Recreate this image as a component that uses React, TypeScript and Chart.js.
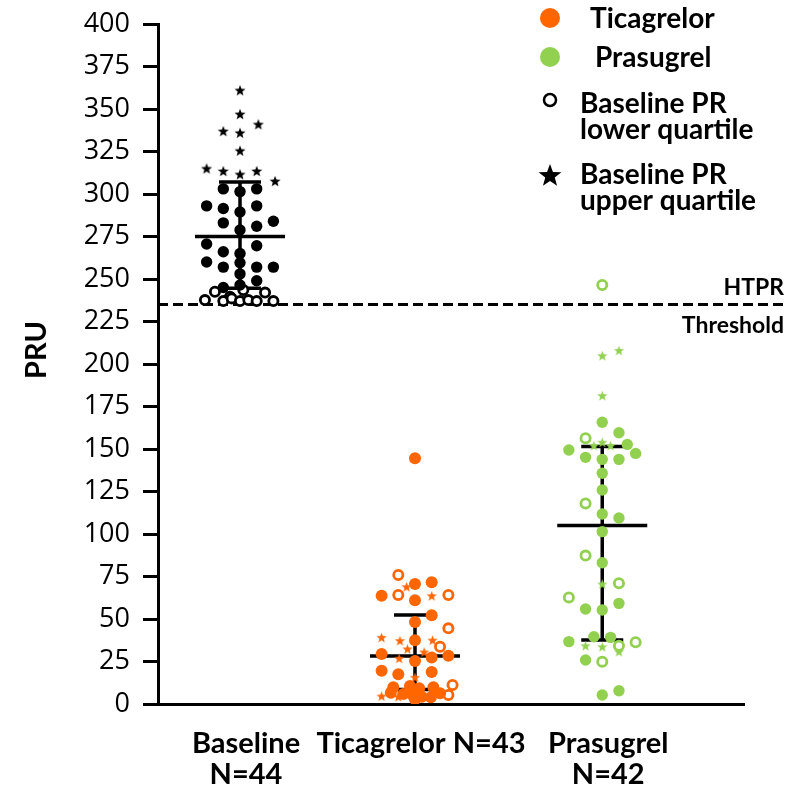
import React, { useEffect, useRef } from 'react';
import { Chart, registerables } from 'chart.js';

Chart.register(...registerables);

// Group layout on the x axis
const GROUP_X = [1, 2, 3.07];
const GROUP_LABELS: (string | string[])[] = [['Baseline', 'N=44'], 'Ticagrelor N=43', ['Prasugrel', 'N=42']];
const GROUP_COLORS = ['#000000', '#FF6600', '#92D050'];

// Centre line and whisker ends per group (PRU)
const CENTER = [275, 28.2, 105];
const UPPER = [307, 52.4, 151.5];
const LOWER = [244.5, 8.5, 37.6];

// High on-treatment platelet reactivity threshold
const HTPR = 235;

const Y_MIN = 0;
const Y_MAX = 400;
const Y_STEP = 25;

// Each point: [jitter column, PRU]
const BASELINE_MID: [number, number][] = [
  [-1, 303], [0, 301.4], [1, 303], [-2, 293], [-1, 291.5], [0, 289.4], [1, 293],
  [-1, 283], [0, 278.8], [1, 281], [2, 284], [-2, 270.6], [-1, 266], [0, 265],
  [1, 269.6], [-2, 260], [-1, 257], [0, 259.6], [1, 257], [2, 257], [0, 253],
  [1, 249], [-1, 245], [0, 246.5],
];
const BASELINE_LOWER_Q: [number, number][] = [
  [-1.5, 242.5], [-0.6, 239.6], [0.2, 243.5], [1.5, 242], [-2.1, 237.6], [-1, 237],
  [-0.5, 238.6], [0, 237], [0.5, 237.6], [1, 237], [2, 237],
];
const BASELINE_UPPER_Q: [number, number][] = [
  [0, 361], [0, 347], [1.1, 341], [-1, 337], [0, 336], [0, 325.5], [-2, 315],
  [-1, 313.5], [0, 311.6], [1, 313.5], [2.1, 307.6],
];

const TICAGRELOR_MID: [number, number][] = [
  [0, 144.5], [0, 70.6], [1, 71.6], [-2, 63.7], [0, 61], [1, 52.2], [0, 48.2],
  [0, 37.5], [-2, 29.4], [1, 27.3], [2, 28.4], [0, 25.3], [-2, 19.6], [-1, 17.5],
  [1, 18.8], [-1.3, 9.8], [-0.3, 10.6], [0.25, 9.2], [1.1, 9.8], [-1.45, 6.6],
  [-0.7, 5.9], [-0.1, 4.7], [0.4, 4.3], [0.95, 3.9], [1.5, 6.3], [0, 2.8],
];
const TICAGRELOR_LOWER_Q: [number, number][] = [
  [-1, 75.9], [-1, 64.1], [2, 64.1], [2, 44.5], [1.5, 33.7], [2.25, 11.2], [2, 5.3],
];
const TICAGRELOR_UPPER_Q: [number, number][] = [
  [-0.5, 69], [1, 63.7], [-2, 39.2], [-0.9, 37.3], [1.05, 37.6], [-0.45, 32.4],
  [0.55, 30.6], [-0.95, 26.9], [0, 15.7], [-2, 4.7], [-1, 4.3],
];

const PRASUGREL_MID: [number, number][] = [
  [0, 165.7], [1, 159.6], [-2, 149.4], [1.5, 152.7], [2, 147.4], [-1, 145.1],
  [0, 143.9], [1, 143.9], [0, 135.7], [0, 125.9], [0, 111.8], [1, 109.4],
  [0, 101.4], [0, 83.1], [1, 59.2], [-1, 55.9], [0, 55.3], [-2, 36.7],
  [-0.5, 39.6], [0.5, 39.2], [-1, 25.9], [0, 5.3], [1, 7.8],
];
const PRASUGREL_LOWER_Q: [number, number][] = [
  [0, 246.5], [-1, 156.3], [-1, 118], [-1, 87.3], [1, 71], [-2, 62.7], [2, 36.3],
  [1, 34.3], [0, 24.9],
];
const PRASUGREL_UPPER_Q: [number, number][] = [
  [0, 204.9], [1, 208], [0, 181.4], [-0.5, 152], [0, 154], [0.5, 152], [0, 70.6],
  [-1, 34.3], [0, 33.7], [1, 30.8],
];

const COL_WIDTH = 0.0954; // x units per jitter column

const BOLD = 'Lato';
const REGULAR = 'Open Sans';

function toPoints(rows: [number, number][], g: number) {
  return rows.map(([c, v]) => ({ x: GROUP_X[g] + c * COL_WIDTH, y: v }));
}

function starPath(ctx: CanvasRenderingContext2D, cx: number, cy: number, outer: number, inner: number) {
  ctx.beginPath();
  for (let i = 0; i < 10; i++) {
    const a = -Math.PI / 2 + (i * Math.PI) / 5;
    const r = i % 2 === 0 ? outer : inner;
    const px = cx + r * Math.cos(a);
    const py = cy + r * Math.sin(a);
    if (i === 0) ctx.moveTo(px, py);
    else ctx.lineTo(px, py);
  }
  ctx.closePath();
}

function makeStar(color: string, outer: number) {
  const size = Math.ceil(outer * 2 + 2);
  const c = document.createElement('canvas');
  c.width = size;
  c.height = size;
  const ctx = c.getContext('2d')!;
  starPath(ctx, size / 2, size / 2 + outer * 0.1, outer, outer * 0.42);
  ctx.fillStyle = color;
  ctx.fill();
  return c;
}

const overlay = {
  id: 'pruOverlay',
  beforeDatasetsDraw(chart: any) {
    const { ctx, scales, chartArea } = chart;
    const xs = scales.x;
    const ys = scales.y;
    ctx.save();
    // threshold line
    const yT = ys.getPixelForValue(HTPR);
    ctx.strokeStyle = '#000';
    ctx.lineWidth = 3;
    ctx.setLineDash([10, 5]);
    ctx.beginPath();
    ctx.moveTo(chartArea.left, yT);
    ctx.lineTo(786, yT);
    ctx.stroke();
    ctx.setLineDash([]);
    // centre lines and whiskers
    ctx.lineWidth = 3.5;
    ctx.lineCap = 'butt';
    for (let g = 0; g < GROUP_X.length; g++) {
      const x = xs.getPixelForValue(GROUP_X[g]);
      const yc = ys.getPixelForValue(CENTER[g]);
      const yu = ys.getPixelForValue(UPPER[g]);
      const yl = ys.getPixelForValue(LOWER[g]);
      ctx.beginPath();
      ctx.moveTo(x, yu);
      ctx.lineTo(x, yl);
      ctx.moveTo(x - 45, yc);
      ctx.lineTo(x + 45, yc);
      ctx.moveTo(x - 21, yu);
      ctx.lineTo(x + 21, yu);
      ctx.moveTo(x - 21, yl);
      ctx.lineTo(x + 21, yl);
      ctx.stroke();
    }
    ctx.restore();
  },
  afterDraw(chart: any) {
    const { ctx, scales } = chart;
    const ys = scales.y;
    ctx.save();
    ctx.fillStyle = '#000';
    ctx.textBaseline = 'middle';

    // threshold labels
    const yT = ys.getPixelForValue(HTPR);
    ctx.font = `bold 23px ${BOLD}`;
    ctx.textAlign = 'right';
    ctx.fillText('HTPR', 784, yT - 17);
    ctx.fillText('Threshold', 784, yT + 21);

    // y axis title
    ctx.save();
    ctx.translate(37, 350);
    ctx.rotate(-Math.PI / 2);
    ctx.textAlign = 'center';
    ctx.font = `bold 29px ${BOLD}`;
    ctx.fillText('PRU', 0, 0);
    ctx.restore();

    // legend
    ctx.textAlign = 'left';
    ctx.font = `bold 28px ${BOLD}`;
    ctx.fillStyle = GROUP_COLORS[1];
    ctx.beginPath();
    ctx.arc(550, 18, 10, 0, Math.PI * 2);
    ctx.fill();
    ctx.fillStyle = GROUP_COLORS[2];
    ctx.beginPath();
    ctx.arc(550, 57, 10, 0, Math.PI * 2);
    ctx.fill();
    ctx.strokeStyle = '#000';
    ctx.lineWidth = 2.5;
    ctx.beginPath();
    ctx.arc(550, 100, 6, 0, Math.PI * 2);
    ctx.stroke();
    ctx.fillStyle = '#000';
    starPath(ctx, 550, 176, 12, 5);
    ctx.fill();

    ctx.fillText('Ticagrelor', 590, 19);
    ctx.fillText('Prasugrel', 595, 58);
    ctx.fillText('Baseline PR', 580, 104);
    ctx.fillText('lower quartile', 580, 130);
    ctx.fillText('Baseline PR', 580, 175);
    ctx.fillText('upper quartile', 580, 201);
    ctx.restore();
  },
};

export default function App() {
  const canvasRef = useRef<HTMLCanvasElement | null>(null);

  useEffect(() => {
    const canvas = canvasRef.current;
    if (!canvas) return;

    const datasets: any[] = [];
    const groups = [
      [BASELINE_MID, BASELINE_LOWER_Q, BASELINE_UPPER_Q],
      [TICAGRELOR_MID, TICAGRELOR_LOWER_Q, TICAGRELOR_UPPER_Q],
      [PRASUGREL_MID, PRASUGREL_LOWER_Q, PRASUGREL_UPPER_Q],
    ];
    const names = ['Baseline', 'Ticagrelor', 'Prasugrel'];
    groups.forEach(([mid, lowQ, upQ], g) => {
      const color = GROUP_COLORS[g];
      const r = g === 1 ? 6 : 5.7;
      datasets.push({
        label: `${names[g]} middle`,
        data: toPoints(mid, g),
        pointStyle: 'circle',
        pointRadius: r,
        backgroundColor: color,
        borderColor: color,
        borderWidth: 0,
      });
      datasets.push({
        label: `${names[g]} lower quartile`,
        data: toPoints(lowQ, g),
        pointStyle: 'circle',
        pointRadius: 4.6,
        backgroundColor: '#ffffff',
        borderColor: color,
        borderWidth: 2.8,
      });
      datasets.push({
        label: `${names[g]} upper quartile`,
        data: toPoints(upQ, g),
        pointStyle: makeStar(color, g === 0 ? 5.8 : 5.4),
        pointRadius: 6,
        backgroundColor: color,
        borderColor: color,
      });
    });

    const chart = new Chart(canvas, {
      type: 'scatter',
      data: { datasets },
      options: {
        animation: false,
        responsive: false,
        devicePixelRatio: 1,
        layout: { padding: { top: 24, right: 54, left: 0, bottom: 0 } },
        plugins: { legend: { display: false }, tooltip: { enabled: false } },
        scales: {
          x: {
            type: 'linear',
            min: 0.5314,
            max: 3.88,
            afterBuildTicks: (axis: any) => {
              axis.ticks = GROUP_X.map((v) => ({ value: v }));
            },
            afterFit: (axis: any) => {
              axis.height = 82;
            },
            grid: { display: false },
            border: { display: true, color: '#000', width: 3 },
            ticks: {
              autoSkip: false,
              maxRotation: 0,
              minRotation: 0,
              padding: 16,
              labelOffset: 6,
              color: '#000',
              font: { family: BOLD, weight: 'bold', size: 29, lineHeight: 1.07 },
              callback: (_v: any, i: number) => GROUP_LABELS[i],
            },
          },
          y: {
            min: Y_MIN,
            max: Y_MAX,
            afterFit: (axis: any) => {
              axis.width = 158;
            },
            grid: {
              drawOnChartArea: false,
              drawTicks: true,
              tickLength: 15,
              tickWidth: 3,
              tickColor: '#000',
            },
            border: { display: true, color: '#000', width: 3 },
            ticks: {
              stepSize: Y_STEP,
              padding: 13,
              color: '#000',
              font: { family: REGULAR, size: 27, lineHeight: 0.75 },
            },
          },
        },
      },
      plugins: [overlay],
    });

    return () => chart.destroy();
  }, []);

  return (
    <div style={{ position: 'absolute', left: 0, top: 0, width: 798, height: 786, background: '#fff' }}>
      <canvas ref={canvasRef} width={798} height={786} style={{ display: 'block' }} />
    </div>
  );
}
